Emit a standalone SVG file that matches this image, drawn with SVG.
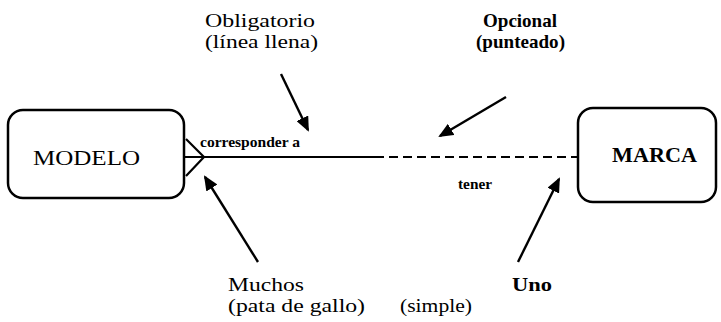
<svg xmlns="http://www.w3.org/2000/svg" width="721" height="322" viewBox="0 0 721 322">
<style>
.box{fill:#fff;stroke:#000;stroke-width:2.5}
.t{font-family:"Liberation Serif","Times New Roman",serif;fill:#000}
.lbl{font-size:19px}
.b{font-weight:bold}
.ln{stroke:#000;stroke-width:2.2;fill:none}
.ptr{stroke:#000;stroke-width:2.4;fill:none}
</style>
<defs>
<marker id="ah" markerWidth="15" markerHeight="13" refX="13" refY="6.5" orient="auto" markerUnits="userSpaceOnUse" viewBox="0 0 15 13">
<path d="M0,0 L15,6.5 L0,13 z" fill="#000"/>
</marker>
</defs>
<rect width="721" height="322" fill="#fff"/>
<g id="modelo">
<rect class="box" x="8" y="110" width="176" height="88" rx="15"/>
<text class="t" x="33" y="165" font-size="21" textLength="107" lengthAdjust="spacingAndGlyphs">MODELO</text>
</g>
<g id="marca">
<rect class="box" x="578" y="108" width="138" height="94" rx="15"/>
<text class="t b" x="612" y="162" font-size="20" textLength="85" lengthAdjust="spacingAndGlyphs">MARCA</text>
</g>
<g id="connectors">
<line class="ln" x1="184" y1="157" x2="375" y2="157"/>
<line class="ln" x1="375" y1="157" x2="578" y2="157" stroke-dasharray="9,5"/>
<path class="ln" d="M186,139 L204,157 L186,176"/>
<text class="t b" x="200" y="147" font-size="14" textLength="100" lengthAdjust="spacingAndGlyphs">corresponder a</text>
<text class="t b" x="458" y="189" font-size="14" textLength="34" lengthAdjust="spacingAndGlyphs">tener</text>
</g>
<g id="pointers">
<line class="ptr" x1="281" y1="74" x2="308" y2="130" marker-end="url(#ah)"/>
<line class="ptr" x1="506" y1="97" x2="440" y2="136" marker-end="url(#ah)"/>
<line class="ptr" x1="258" y1="262" x2="205" y2="177" marker-end="url(#ah)"/>
<line class="ptr" x1="518" y1="262" x2="559" y2="179" marker-end="url(#ah)"/>
</g>
<g id="labels">
<text class="t lbl" x="205" y="27" textLength="110" lengthAdjust="spacingAndGlyphs">Obligatorio</text>
<text class="t lbl" x="205" y="48" textLength="113" lengthAdjust="spacingAndGlyphs">(línea llena)</text>
<text class="t lbl b" x="483" y="27" textLength="74" lengthAdjust="spacingAndGlyphs">Opcional</text>
<text class="t lbl b" x="476" y="48" textLength="89" lengthAdjust="spacingAndGlyphs">(punteado)</text>
<text class="t lbl" x="228" y="291" textLength="76" lengthAdjust="spacingAndGlyphs">Muchos</text>
<text class="t lbl" x="228" y="312" textLength="137" lengthAdjust="spacingAndGlyphs">(pata de gallo)</text>
<text class="t lbl b" x="512" y="291" textLength="40" lengthAdjust="spacingAndGlyphs">Uno</text>
<text class="t lbl" x="400" y="312" textLength="72" lengthAdjust="spacingAndGlyphs">(simple)</text>
</g>
</svg>
